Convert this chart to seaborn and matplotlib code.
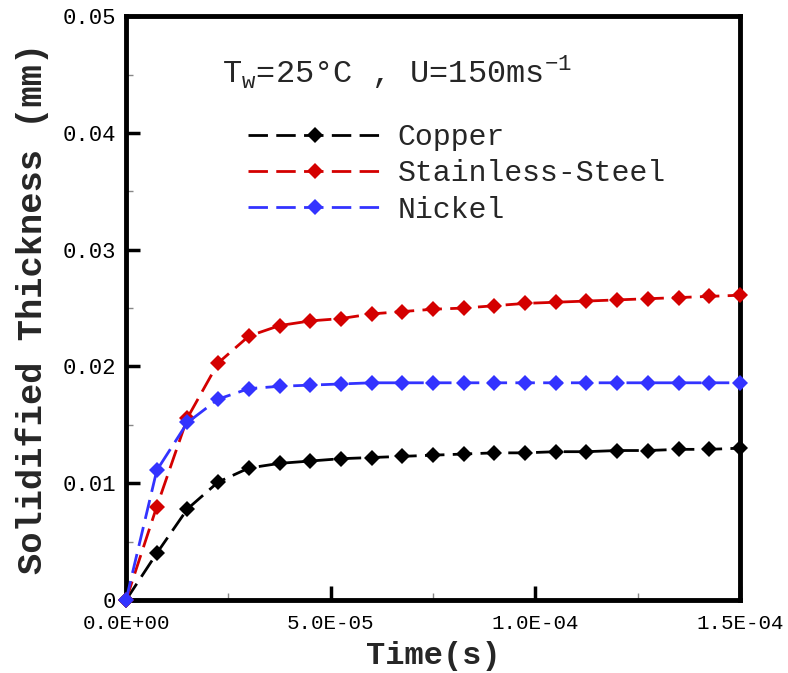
import matplotlib
matplotlib.use("Agg")
import matplotlib.pyplot as plt
import seaborn as sns
import numpy as np
import pandas as pd
from matplotlib.ticker import FixedLocator, MultipleLocator, FuncFormatter

# Sampled solidification time (s)
time_s = [0.0, 7.5e-6, 1.5e-5, 2.25e-5, 3.0e-5, 3.75e-5, 4.5e-5, 5.25e-5, 6.0e-5,
          6.75e-5, 7.5e-5, 8.25e-5, 9.0e-5, 9.75e-5, 1.05e-4, 1.125e-4, 1.2e-4,
          1.275e-4, 1.35e-4, 1.425e-4, 1.5e-4]

# Solidified layer thickness (mm)
copper = [0.0, 0.0040, 0.0078, 0.0101, 0.0113, 0.0117, 0.0119, 0.0121, 0.0122,
          0.0123, 0.0124, 0.0125, 0.0126, 0.0126, 0.0127, 0.0127, 0.0128,
          0.0128, 0.0129, 0.0129, 0.0130]
stainless = [0.0, 0.0080, 0.0156, 0.0203, 0.0226, 0.0235, 0.0239, 0.0241, 0.0245,
             0.0247, 0.0249, 0.0250, 0.0252, 0.0254, 0.0255, 0.0256, 0.0257,
             0.0258, 0.0259, 0.0260, 0.0261]
nickel = [0.0, 0.0111, 0.0152, 0.0172, 0.0181, 0.0183, 0.0184, 0.0185, 0.0186,
          0.0186, 0.0186, 0.0186, 0.0186, 0.0186, 0.0186, 0.0186, 0.0186,
          0.0186, 0.0186, 0.0186, 0.0186]

materials = ["Copper", "Stainless-Steel", "Nickel"]
colors = ["#000000", "#d40000", "#3333ff"]

x_ticks = [0.0, 5.0e-5, 1.0e-4, 1.5e-4]
x_tick_labels = ["0.0E+00", "5.0E-05", "1.0E-04", "1.5E-04"]
y_ticks = [0.0, 0.01, 0.02, 0.03, 0.04, 0.05]
y_tick_labels = ["0", "0.01", "0.02", "0.03", "0.04", "0.05"]

sns.set_theme(style="white")
mono = ["Liberation Mono", "DejaVu Sans Mono"]
plt.rcParams["font.family"] = mono

fig = plt.figure(figsize=(7.88, 6.73), dpi=100)
ax = fig.add_axes([0.160, 0.1085, 0.779, 0.8675])

df = pd.DataFrame({
    "Time": time_s * 3,
    "Thickness": copper + stainless + nickel,
    "Material": [m for m in materials for _ in time_s],
})

handles = []
for name, col in zip(materials, colors):
    sub = df[df["Material"] == name]
    sns.lineplot(data=sub, x="Time", y="Thickness", ax=ax, color=col,
                 marker="D", markersize=8.5, markeredgewidth=0, linewidth=2.0,
                 legend=False, clip_on=False, zorder=3)
    line = ax.get_lines()[-1]
    line.set_dashes((7, 3))
    handles.append(line)

ax.set_xlim(0, 1.5e-4)
ax.set_ylim(0, 0.05)

ax.xaxis.set_major_locator(FixedLocator(x_ticks))
ax.xaxis.set_major_formatter(FuncFormatter(
    lambda v, p: x_tick_labels[min(range(len(x_ticks)), key=lambda i: abs(x_ticks[i] - v))]))
ax.xaxis.set_minor_locator(MultipleLocator(2.5e-5))
ax.yaxis.set_major_locator(FixedLocator(y_ticks))
ax.yaxis.set_major_formatter(FuncFormatter(lambda v, p: y_tick_labels[int(round(v / 0.01))]))
ax.yaxis.set_minor_locator(MultipleLocator(0.005))

ax.tick_params(which="major", direction="in", length=10, width=2.5, color="black",
               labelcolor="black", bottom=True, left=True, top=False, right=False)
ax.tick_params(axis="y", which="major", labelsize=16, pad=7)
ax.tick_params(axis="x", which="major", labelsize=15, pad=10)
ax.tick_params(which="minor", direction="in", length=5, width=1, color="#888888",
               bottom=True, left=True, top=False, right=False)

for side in ["left", "bottom", "top", "right"]:
    ax.spines[side].set_visible(True)
    ax.spines[side].set_color("black")
    ax.spines[side].set_linewidth(3.5)

ax.set_xlabel("Time(s)", fontsize=23, fontweight="bold", labelpad=6)
ax.set_ylabel("Solidified Thickness (mm)", fontsize=25.5, fontweight="bold", labelpad=10)

ax.text(0.157, 0.905, r"T$_\mathregular{w}$=25°C , U=150ms$^{\mathregular{-1}}$",
        transform=ax.transAxes, fontsize=23, ha="left", va="center")

ax.legend(handles, materials, loc="upper left", bbox_to_anchor=(0.155, 0.863),
          frameon=False, fontsize=21.5, handlelength=4.5, handletextpad=0.5,
          labelspacing=0.28, markerscale=1.0)

fig.savefig("out.png", dpi=100)
